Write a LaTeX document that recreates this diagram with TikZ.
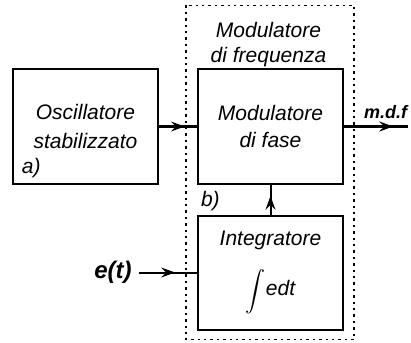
\documentclass[tikz,border=0pt]{standalone}
\usepackage{fontspec}
\setmainfont{Liberation Sans}
\usetikzlibrary{positioning, calc, arrows.meta, decorations.markings}

\tikzset{
    block/.style={draw, line width=1pt, minimum width=72.5pt, minimum height=57pt,
        align=center, font=\fontsize{10.5}{12.5}\selectfont\itshape},
    midarrow/.style={postaction={decorate}, decoration={markings,
        mark=at position #1 with {\arrow{Stealth[length=7pt, width=5pt, inset=2.5pt]}}}},
    frame/.style={line width=0.6pt, dash pattern=on 1.2pt off 2pt},
    signal/.style={font=\itshape\bfseries},
    tag/.style={font=\fontsize{10.5}{12.5}\selectfont\itshape, inner sep=0pt}
}

\begin{document}
\begin{tikzpicture}[line width=1pt, node distance=92.5pt, on grid, auto]
    \useasboundingbox (-42.75pt,63.25pt) rectangle (162.75pt,-107.75pt);
    \node[block] (osc) at (0,0) {Oscillatore\\[2pt]stabilizzato};
    \node[block, right=of osc] (mod) {Modulatore\\[1pt]di fase};
    \node[block, below=73pt of mod] (integ) {Integratore\\[9pt]{\fontsize{7.5}{7.5}\selectfont$\displaystyle\int$}edt};
    \node[font=\fontsize{10.5}{12.5}\selectfont\itshape, align=center, anchor=center]
        (title) at ($(mod.north)+(-1pt,12pt)$) {Modulatore\\di frequenza};
    \node[tag, anchor=south west] (taga) at ($(osc.south west)+(4.5pt,3pt)$) {a)};
    \node[tag, anchor=north west] (tagb) at ($(mod.south west)+(1.5pt,-3pt)$) {b)};
    \node[signal, font=\large\itshape\bfseries, left=78.75pt of integ] (et) {e(t)};
    \coordinate[right=68.75pt of mod] (out);

    \draw[frame] ($(mod.north west)+(-5.5pt,31.5pt)$) rectangle ($(integ.south east)+(5pt,-4.5pt)$);

    \path[line width=1pt]
        (osc) edge[midarrow=0.68] (mod)
        (integ) edge[midarrow=0.62] (mod)
        (et) edge[midarrow=0.62] (integ)
        (mod) edge[midarrow=0.77] node[signal, font=\small\itshape\bfseries, pos=0.65] {m.d.f} (out);
\end{tikzpicture}
\end{document}
